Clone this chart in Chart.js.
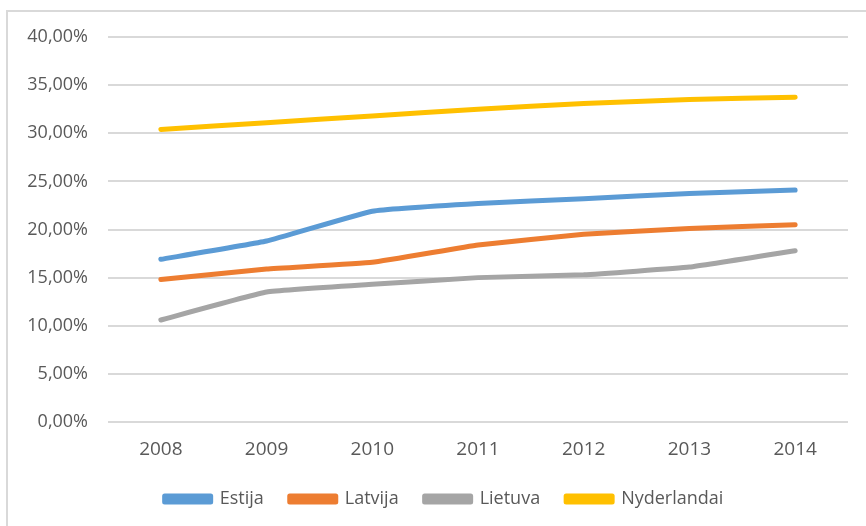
<!DOCTYPE html>
<html>
<head>
<meta charset="utf-8">
<script src="https://cdn.jsdelivr.net/npm/chart.js@4"></script>
<style>
  html, body { margin: 0; padding: 0; background: #fff; }
  #wrap { position: relative; width: 866px; height: 526px; overflow: hidden; }
  #frame { position: absolute; left: 6px; top: 10px; right: -4px; bottom: -4px;
           border-top: 2px solid #d9d9d9; border-left: 2px solid #d9d9d9; }
  canvas { position: absolute; left: 0; top: 0; }
</style>
</head>
<body>
<div id="wrap">
  <div id="frame"></div>
  <canvas id="line-chart" width="866" height="526"></canvas>
</div>
<script>
// years on the x axis
const years = ["2008", "2009", "2010", "2011", "2012", "2013", "2014"];

// shares in percent
const estija      = [16.9, 18.8, 21.9, 22.7, 23.2, 23.75, 24.1];
const latvija     = [14.8, 15.9, 16.6, 18.4, 19.5, 20.1, 20.5];
const lietuva     = [10.6, 13.5, 14.3, 15.0, 15.3, 16.1, 17.8];
const nyderlandai = [30.4, 31.1, 31.8, 32.5, 33.1, 33.5, 33.75];

const textColor = "#595959";
const gridColor = "#d9d9d9";

function series(label, data, color) {
  return {
    label: label,
    data: data,
    borderColor: color,
    backgroundColor: color,
    borderWidth: 5,
    borderCapStyle: "round",
    borderJoinStyle: "round",
    pointRadius: 0,
    pointHoverRadius: 0,
    tension: 0.1,
    fill: false
  };
}

// nudge the legend a bit to the right, the original is centred under the plot
const shiftLegend = {
  id: "shiftLegend",
  afterLayout: function (chart) {
    chart.legend.left += 15;
    chart.legend.right += 15;
  }
};

new Chart(document.getElementById("line-chart"), {
  type: "line",
  data: {
    labels: years,
    datasets: [
      series("Estija", estija, "#5B9BD5"),
      series("Latvija", latvija, "#ED7D31"),
      series("Lietuva", lietuva, "#A5A5A5"),
      series("Nyderlandai", nyderlandai, "#FFC000")
    ]
  },
  plugins: [shiftLegend],
  options: {
    responsive: false,
    animation: false,
    layout: { padding: { left: 10, right: 18, top: 37, bottom: 8 } },
    plugins: {
      title: { display: false },
      tooltip: { enabled: false },
      legend: {
        display: true,
        position: "bottom",
        labels: {
          boxWidth: 46,
          boxHeight: 6,
          padding: 26,
          color: textColor,
          font: { family: "'Open Sans'", size: 18 }
        }
      }
    },
    scales: {
      x: {
        offset: true,
        grid: { display: false },
        border: { display: false },
        ticks: {
          color: textColor,
          padding: 8,
          font: { family: "'Open Sans'", size: 19 }
        },
        afterFit: function (scale) { scale.height = 42; }
      },
      y: {
        min: 0,
        max: 40,
        grid: { color: gridColor, lineWidth: 2, drawTicks: false },
        border: { display: false },
        ticks: {
          stepSize: 5,
          color: textColor,
          padding: 20,
          font: { family: "'Open Sans'", size: 18 },
          callback: function (v) { return v.toFixed(2).replace(".", ",") + "%"; }
        },
        afterFit: function (scale) { scale.width = 98; }
      }
    }
  }
});
</script>
</body>
</html>
